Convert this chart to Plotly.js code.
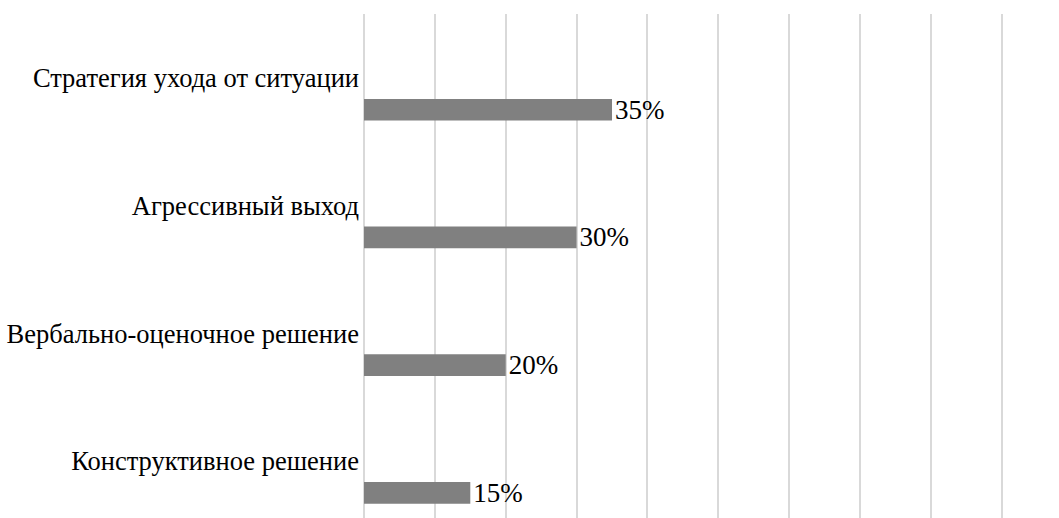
<!DOCTYPE html>
<html>
<head>
<meta charset="utf-8">
<script src="https://cdn.plot.ly/plotly-3.0.1.min.js"></script>
<style>html,body{margin:0;padding:0;background:#fff;}#chart{width:1059px;height:518px;}</style>
</head>
<body>
<div id="chart"></div>
<script>
const categories = ["Стратегия ухода от ситуации", "Агрессивный выход", "Вербально-оценочное решение", "Конструктивное решение"];
const values = [0.35, 0.30, 0.20, 0.15];
const valueLabels = ["35%", "30%", "20%", "15%"];
const xTicks = [0, 0.1, 0.2, 0.3, 0.4, 0.5, 0.6, 0.7, 0.8, 0.9];

const FONT = "'Liberation Serif', 'Times New Roman', serif";

const trace = {
  type: 'bar',
  orientation: 'h',
  y: categories,
  x: values,
  text: valueLabels,
  textposition: 'outside',
  constraintext: 'none',
  cliponaxis: false,
  textfont: {family: FONT, size: 27, color: '#000'},
  marker: {color: '#808080'},
  width: 0.17,
  offset: 0.165,
  hoverinfo: 'none'
};

const layout = {
  width: 1059, height: 518,
  margin: {l: 364, r: 36, t: 14, b: 0},
  paper_bgcolor: '#fff', plot_bgcolor: '#fff',
  showlegend: false,
  font: {family: FONT, color: '#000', size: 26.5},
  xaxis: {
    range: [0, 0.93],
    tickvals: xTicks,
    showticklabels: false,
    showgrid: true, gridcolor: '#d9d9d9', gridwidth: 2,
    zeroline: true, zerolinecolor: '#d9d9d9', zerolinewidth: 2,
    showline: false, ticks: ''
  },
  yaxis: {
    type: 'category',
    range: [3.447, -0.5],
    showgrid: false, zeroline: false, showline: false,
    ticks: '', ticklabelstandoff: 4,
    tickfont: {family: FONT, size: 26.5, color: '#000'}
  }
};

Plotly.newPlot('chart', [trace], layout, {displayModeBar: false, staticPlot: true});
</script>
</body>
</html>
